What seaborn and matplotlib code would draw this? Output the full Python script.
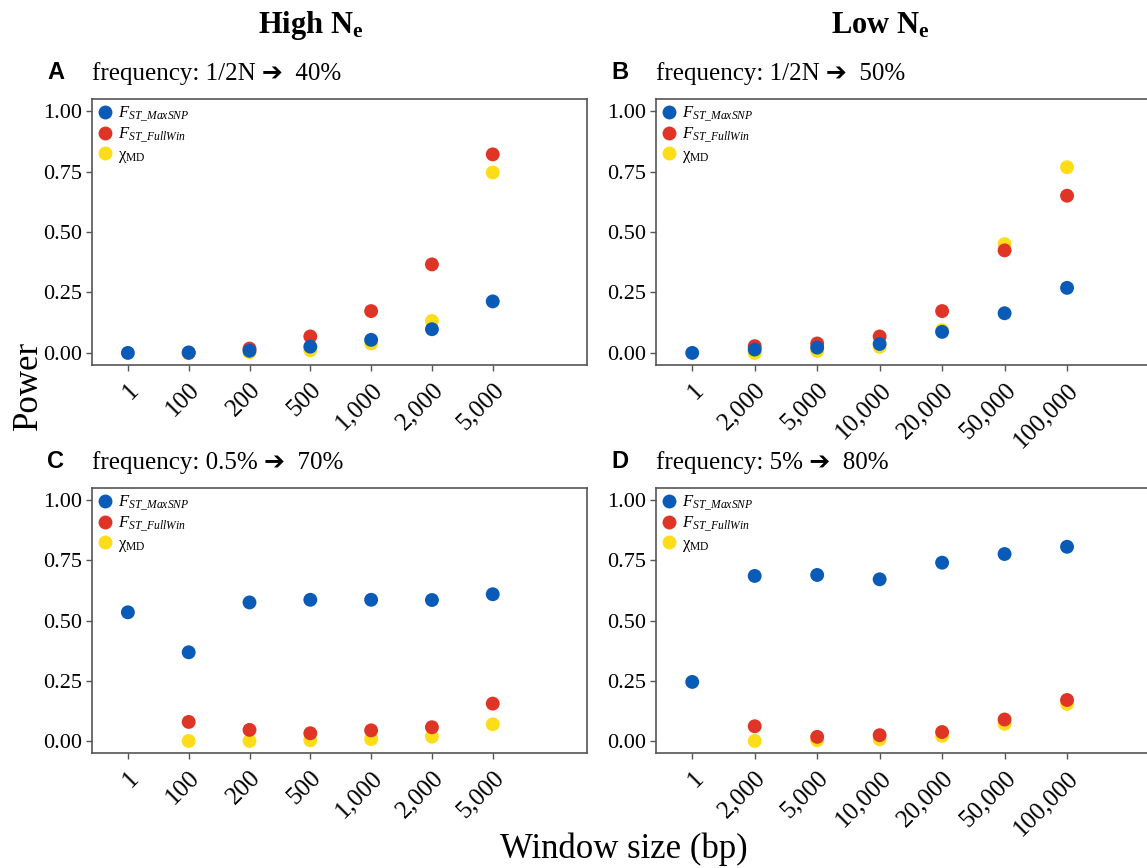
import numpy as np
import pandas as pd
import matplotlib
matplotlib.use("Agg")
import matplotlib.pyplot as plt
import seaborn as sns

# ---- data -------------------------------------------------------------
windows_high = ["1", "100", "200", "500", "1,000", "2,000", "5,000"]
windows_low = ["1", "2,000", "5,000", "10,000", "20,000", "50,000", "100,000"]

metrics = ["FST_MaxSNP", "FST_FullWin", "chi_MD"]
metric_labels = [r"$F_{ST\_MaxSNP}$", r"$F_{ST\_FullWin}$", r"$\mathrm{\chi}_{\mathrm{MD}}$"]
metric_colors = ["#0A5BB8", "#DE3527", "#FDDD17"]

nan = np.nan

# panel A: high Ne, 1/2N -> 40%
a_maxsnp = [0.000, 0.002, 0.009, 0.026, 0.054, 0.098, 0.213]
a_fullwin = [nan, 0.000, 0.018, 0.068, 0.173, 0.366, 0.821]
a_chimd = [nan, 0.000, 0.003, 0.011, 0.039, 0.132, 0.746]

# panel B: low Ne, 1/2N -> 50%
b_maxsnp = [0.000, 0.014, 0.022, 0.037, 0.087, 0.164, 0.269]
b_fullwin = [nan, 0.028, 0.039, 0.068, 0.173, 0.424, 0.650]
b_chimd = [nan, 0.000, 0.008, 0.025, 0.094, 0.450, 0.768]

# panel C: high Ne, 0.5% -> 70%
c_maxsnp = [0.534, 0.368, 0.575, 0.586, 0.586, 0.585, 0.609]
c_fullwin = [nan, 0.079, 0.046, 0.032, 0.044, 0.057, 0.155]
c_chimd = [nan, 0.000, 0.000, 0.003, 0.008, 0.018, 0.069]

# panel D: low Ne, 5% -> 80%
d_maxsnp = [0.245, 0.685, 0.689, 0.671, 0.740, 0.776, 0.806]
d_fullwin = [nan, 0.061, 0.017, 0.024, 0.037, 0.089, 0.170]
d_chimd = [nan, 0.000, 0.003, 0.007, 0.021, 0.071, 0.154]

panel_letters = ["A", "B", "C", "D"]
panel_titles = ["frequency: 1/2N \u2794  40%", "frequency: 1/2N \u2794  50%",
                "frequency: 0.5% \u2794  70%", "frequency: 5% \u2794  80%"]
column_titles = [r"High N$_{\mathbf{e}}$", r"Low N$_{\mathbf{e}}$"]
y_ticks = [0.0, 0.25, 0.5, 0.75, 1.0]
y_ticklabels = ["0.00", "0.25", "0.50", "0.75", "1.00"]

# ---- style ------------------------------------------------------------
sns.set_theme(style="white")
plt.rcParams["font.family"] = ["Liberation Serif", "DejaVu Sans"]
plt.rcParams["text.color"] = "black"
plt.rcParams["xtick.color"] = "black"
plt.rcParams["ytick.color"] = "black"
plt.rcParams["mathtext.fontset"] = "custom"
plt.rcParams["mathtext.rm"] = "Liberation Serif"
plt.rcParams["mathtext.it"] = "Liberation Serif:italic"
plt.rcParams["mathtext.bf"] = "Liberation Serif:bold"

W, H = 1147, 868
fig = plt.figure(figsize=(W / 100, H / 100), dpi=100)


def rect(left, top, right, bottom):
    return [left / W, 1 - bottom / H, (right - left) / W, (bottom - top) / H]


panels = [
    (windows_high, a_maxsnp, a_fullwin, a_chimd, rect(92, 99, 587, 365), (-0.59, 7.55)),
    (windows_low, b_maxsnp, b_fullwin, b_chimd, rect(656, 99, 1152, 365), (-0.58, 7.36)),
    (windows_high, c_maxsnp, c_fullwin, c_chimd, rect(92, 488, 587, 753), (-0.59, 7.55)),
    (windows_low, d_maxsnp, d_fullwin, d_chimd, rect(656, 488, 1152, 753), (-0.58, 7.36)),
]

spine_color = "#555555"

for i, (wins, mx, fw, cm, box, xlim) in enumerate(panels):
    ax = fig.add_axes(box)
    # rows ordered so that blue sits on top of red, red on top of yellow
    frames = []
    for key, vals in zip(["chi_MD", "FST_FullWin", "FST_MaxSNP"], [cm, fw, mx]):
        frames.append(pd.DataFrame({"window": wins, "power": vals, "metric": key}))
    df = pd.concat(frames, ignore_index=True).dropna()
    df["pos"] = df["window"].map({w: k for k, w in enumerate(wins)})

    sns.scatterplot(data=df, x="pos", y="power", hue="metric", hue_order=metrics,
                    palette=metric_colors, s=100, linewidth=0, edgecolor="none",
                    alpha=1.0, ax=ax, legend=False)

    ax.set_xlim(*xlim)
    ax.set_ylim(-0.05, 1.05)
    ax.set_xticks(range(len(wins)))
    ax.set_xticklabels(wins, rotation=45, ha="right", rotation_mode="anchor",
                       fontsize=18)
    ax.set_yticks(y_ticks)
    ax.set_yticklabels(y_ticklabels, fontsize=16)
    ax.set_xlabel("")
    ax.set_ylabel("")
    ax.tick_params(axis="both", which="major", length=4, width=1.0,
                   color=spine_color, direction="out", bottom=True, left=True,
                   pad=3, labelcolor="black")
    ax.tick_params(axis="x", pad=6)
    for sp in ax.spines.values():
        sp.set_color(spine_color)
        sp.set_linewidth(1.2)
    if i in (1, 3):
        ax.spines["right"].set_visible(False)

    handles = [plt.Line2D([], [], marker="o", linestyle="none", markersize=10,
                          markerfacecolor=c, markeredgecolor="none")
               for c in metric_colors]
    ax.legend(handles, metric_labels, loc="upper left", frameon=False,
              fontsize=12, handletextpad=0.25, labelspacing=0.12,
              borderaxespad=0.1, borderpad=0.2, handlelength=1.0)

    # panel letter and condition title
    left_px = box[0] * W
    top_px = (1 - box[1] - box[3]) * H
    fig.text((left_px - 45) / W, 1 - (top_px - 27) / H, panel_letters[i],
             family=["Liberation Sans", "DejaVu Sans"], fontweight="bold",
             fontsize=17, ha="left", va="center")
    fig.text(left_px / W, 1 - (top_px - 25) / H, panel_titles[i],
             fontsize=18, ha="left", va="center")

# column headers
fig.text(311 / W, 1 - 26 / H, column_titles[0], fontsize=22, fontweight="bold",
         ha="center", va="center")
fig.text(880 / W, 1 - 26 / H, column_titles[1], fontsize=22, fontweight="bold",
         ha="center", va="center")

# shared axis labels
fig.text(28 / W, 1 - 385 / H, "Power", rotation=90, fontsize=25,
         ha="center", va="center")
fig.text(624 / W, 1 - 849 / H, "Window size (bp)", fontsize=25,
         ha="center", va="center")

fig.savefig("out.png", dpi=100)
